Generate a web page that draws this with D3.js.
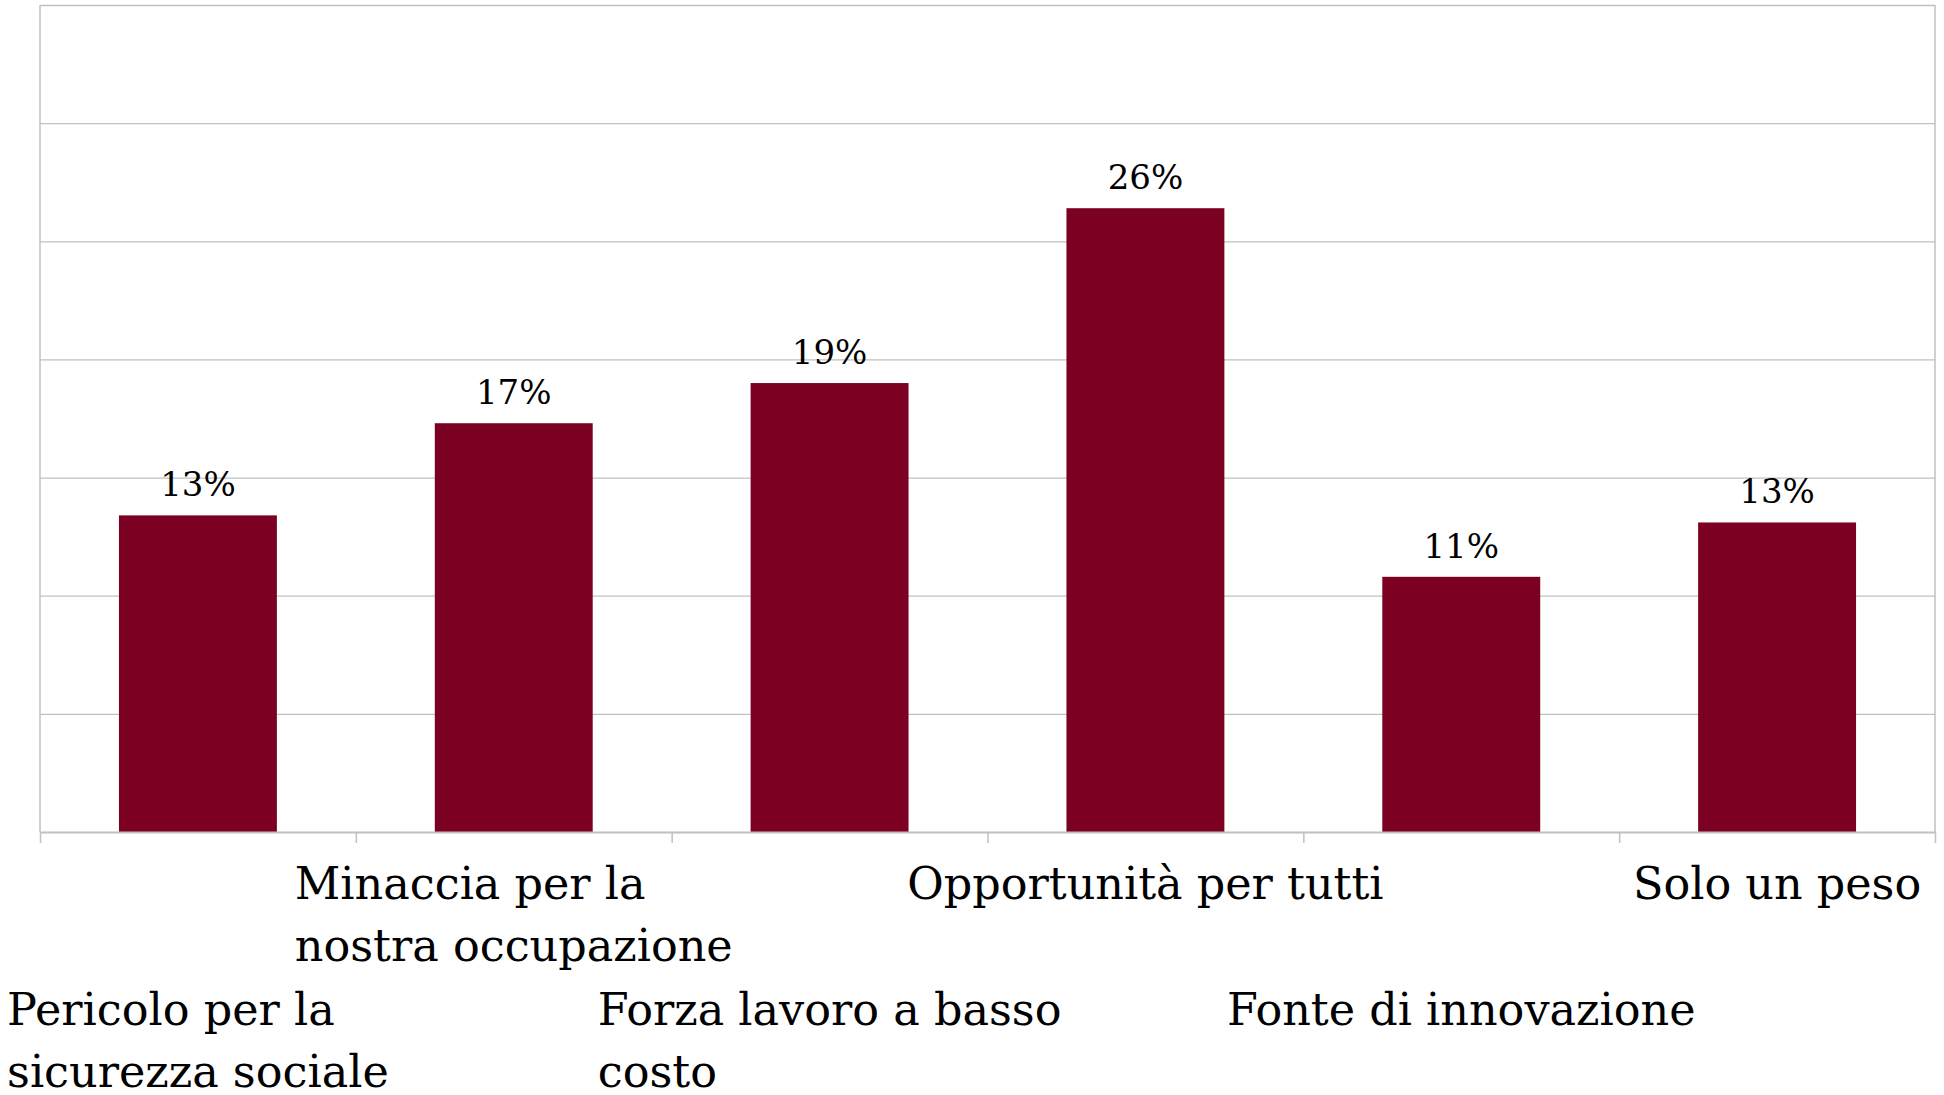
<!DOCTYPE html>
<html><head><meta charset="utf-8">
<script src="https://cdn.jsdelivr.net/npm/d3@7"></script>
<style>body{margin:0;background:#fff;} svg{display:block}</style>
</head><body><svg id="c" width="1944" height="1095"></svg>
<script>
const categories = ["Pericolo per la\nsicurezza sociale", "Minaccia per la\nnostra occupazione", "Forza lavoro a basso\ncosto", "Opportunità per tutti", "Fonte di innovazione", "Solo un peso"];
const values = [0.134, 0.173, 0.190, 0.264, 0.108, 0.131];
const yTicks = [0.05, 0.10, 0.15, 0.20, 0.25, 0.30, 0.35];

const W = 1944, H = 1095;
const m = {left: 40, right: 9, top: 5, axisY: 832};
const svg = d3.select("#c");
const x = d3.scaleBand().domain(categories).range([m.left, W - m.right]).paddingInner(0.5).paddingOuter(0.25);
const xb = d3.scaleLinear().domain([0, categories.length]).range([m.left, W - m.right]);
const y = d3.scaleLinear().domain([0, 0.35]).range([m.axisY, m.top]);
const gridCol = "#c0c0c0";
const font = "'DejaVu Serif', serif";

// gridlines
const gy = svg.append("g").attr("transform", `translate(${m.left},0)`)
  .call(d3.axisLeft(y).tickValues(yTicks).tickSize(-(W - m.right - m.left)).tickFormat(""));
gy.select(".domain").remove();
gy.selectAll("line").attr("stroke", gridCol).attr("stroke-width", 1.3);

// plot side borders
svg.append("line").attr("x1", m.left).attr("x2", m.left).attr("y1", m.top).attr("y2", m.axisY).attr("stroke", gridCol).attr("stroke-width", 1.5);
svg.append("line").attr("x1", W - m.right).attr("x2", W - m.right).attr("y1", m.top).attr("y2", m.axisY).attr("stroke", gridCol).attr("stroke-width", 1.5);

// bars
svg.append("g").selectAll("rect").data(values).join("rect")
  .attr("x", (d, i) => x(categories[i]))
  .attr("width", x.bandwidth())
  .attr("y", d => y(d))
  .attr("height", d => y(0) - y(d))
  .attr("fill", "#7b0022");

// x axis with boundary ticks
const gx = svg.append("g").attr("transform", `translate(0,${m.axisY})`)
  .call(d3.axisBottom(xb).tickValues(d3.range(categories.length + 1)).tickSize(11).tickSizeOuter(0).tickFormat(""));
gx.select(".domain").attr("stroke", gridCol).attr("stroke-width", 2);
gx.selectAll(".tick line").attr("stroke", gridCol).attr("stroke-width", 1.5);

// data labels
svg.append("g").selectAll("text").data(values).join("text")
  .attr("x", (d, i) => x(categories[i]) + x.bandwidth() / 2)
  .attr("y", d => y(d) - 19)
  .attr("text-anchor", "middle")
  .attr("font-family", font).attr("font-size", 34).attr("fill", "#000")
  .text(d => d3.format(".0%")(d));

// category labels, staggered
const lineH = 62;
const rowBase = [1025, 899];
categories.forEach((c, i) => {
  const lines = c.split("\n");
  const cx = x(c) + x.bandwidth() / 2;
  const t = svg.append("text").attr("font-family", font).attr("font-size", 44.5).attr("fill", "#000");
  lines.forEach((l, k) => {
    t.append("tspan").attr("y", rowBase[i % 2] + k * lineH).text(l);
  });
  let maxW = 0;
  t.selectAll("tspan").each(function () { maxW = Math.max(maxW, this.getComputedTextLength()); });
  t.selectAll("tspan").attr("x", cx - maxW / 2);
});
</script></body></html>
